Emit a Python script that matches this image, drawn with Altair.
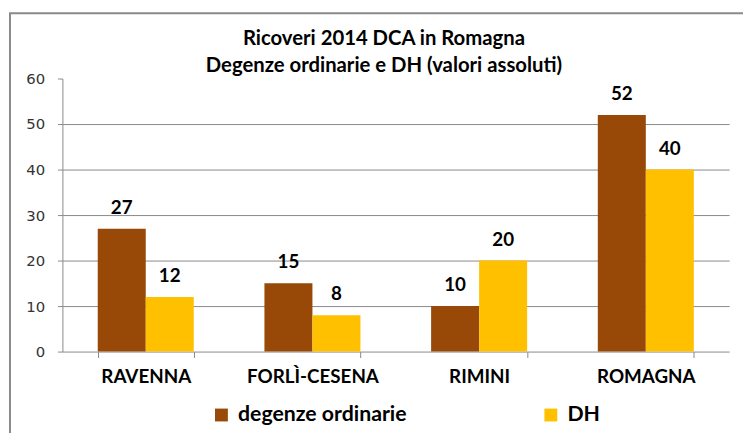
import altair as alt
import pandas as pd

regions = ["RAVENNA", "FORLÌ-CESENA", "RIMINI", "ROMAGNA"]
series = ["degenze ordinarie", "DH"]
degenze = [27, 15, 10, 52]
dh = [12, 8, 20, 40]
y_ticks = [0, 10, 20, 30, 40, 50, 60]

rows = []
for r, a, b in zip(regions, degenze, dh):
    rows.append({"regione": r, "serie": series[0], "valore": a})
    rows.append({"regione": r, "serie": series[1], "valore": b})
df = pd.DataFrame(rows)

BROWN = "#984807"
YELLOW = "#FFC000"
GRAY = "#8a8a8a"
FONT = "Lato"

base = alt.Chart(df).encode(
    x=alt.X(
        "regione:N",
        sort=regions,
        scale=alt.Scale(paddingInner=0.424, paddingOuter=0.212),
        axis=alt.Axis(
            title=None, labelAngle=0, labelFont=FONT, labelFontWeight="bold",
            labelFontSize=19, labelColor="#000000", tickBand="extent",
            tickSize=6, tickColor=GRAY, domainColor=GRAY, labelPadding=10,
            grid=False,
        ),
    ),
    xOffset=alt.XOffset("serie:N", sort=series),
    y=alt.Y(
        "valore:Q",
        scale=alt.Scale(domain=[0, 60], nice=False),
        axis=alt.Axis(
            title=None, values=y_ticks, labelFont="DejaVu Sans", labelFontSize=15,
            labelColor="#333333", tickSize=5, tickColor=GRAY, domainColor=GRAY,
            labelPadding=13, grid=True, gridColor=GRAY,
            gridOpacity={"condition": {"test": "datum.value >= 60 || datum.value <= 0", "value": 0}, "value": 1},
        ),
    ),
)

bars = base.mark_bar().encode(
    color=alt.Color(
        "serie:N",
        sort=series,
        scale=alt.Scale(domain=series, range=[BROWN, YELLOW]),
        legend=alt.Legend(
            title=None, orient="none", legendX=150, legendY=329,
            direction="horizontal", columnPadding=134, symbolType="square",
            symbolSize=169, symbolStrokeWidth=0, labelFont=FONT,
            labelFontWeight="bold", labelFontSize=21.5, labelColor="#000000",
            labelOffset=6, padding=0, labelLimit=400,
        ),
    )
)

labels = base.mark_text(
    dy=-15, baseline="alphabetic", font=FONT, fontWeight="bold", fontSize=19, color="#000000"
).encode(text="valore:Q")

border = alt.Chart(pd.DataFrame({"a": [0]})).mark_rect(
    fill="transparent", stroke=GRAY, strokeWidth=2
).encode(x=alt.value(-53), y=alt.value(-66), x2=alt.value(900), y2=alt.value(600))

chart = alt.layer(border, bars, labels).properties(
    width=674,
    height=276,
    autosize=alt.AutoSizeParams(type="none"),
    padding={"left": 55, "top": 69, "right": 14, "bottom": 80},
    title=alt.TitleParams(
        text=["Ricoveri 2014 DCA in Romagna", "Degenze ordinarie e DH (valori assoluti)"],
        font=FONT, fontSize=20.5, fontWeight="bold", color="#000000",
        anchor="middle", dx=-12, dy=67, offset=2, lineHeight=27,
    ),
).configure_view(stroke=None)

chart.save("out.html", embed_options={"renderer": "svg", "actions": False})
